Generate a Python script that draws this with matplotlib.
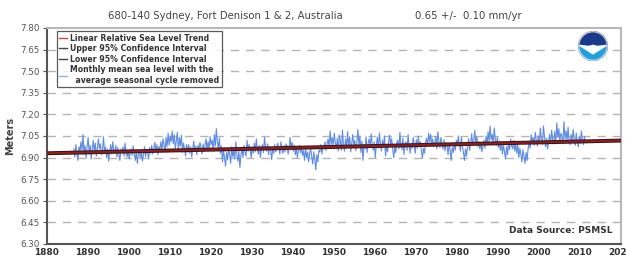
import matplotlib
matplotlib.use('Agg')
import matplotlib.pyplot as plt
from matplotlib.lines import Line2D
from matplotlib.patches import Circle, Wedge, Polygon
import numpy as np

# # Monthly mean sea level (seasonal cycle removed), mm
start_year = 1886.6
msl_mm = [
    6960, 6905, 6990, 6930,  6880, 6975, 6940, 7010,  6950, 7060, 6920, 6985,
    6900, 6970, 7040, 6935,  6985, 6890, 6955, 7020,  6940, 7000, 6910, 6965,
    7030, 6960, 6995, 6920,  6950, 7045, 6930, 6975,  6900, 6960, 6875, 6945,
    6990, 6925, 7010, 6950,  6930, 6985, 6905, 6970,  6920, 6880, 6960, 6935,
    6975, 6910, 7000, 6940,  6905, 6955, 6890, 6930,  6960, 6915, 6980, 6925,
    6880, 6940, 6860, 6920,  6950, 6895, 6935, 6875,  6920, 6975, 6905, 6950,
    6940, 6890, 6970, 6930,  6985, 6925, 6960, 7005,  6945, 6990, 6920, 6975,
    6960, 7010, 6950, 7030,  6990, 6940, 7040, 6975,  7070, 6985, 7050, 7010,
    7085, 6995, 7060, 6960,  7020, 7075, 6950, 7040,  6980, 7055, 6935, 7000,
    6960, 6910, 6990, 6940,  6990, 6930, 6975, 6905,  6960, 7015, 6940, 6980,
    6920, 6985, 6950, 7005,  6970, 6925, 6995, 6945,  6985, 7030, 6955, 7010,
    6960, 7045, 6990, 7020,  6945, 7060, 6980, 7100,  7010, 6960, 7035, 6930,
    6980, 6870, 6950, 6900,  6840, 6935, 6885, 6960,  6920, 6860, 6975, 6905,
    6950, 6890, 7010, 6925,  6875, 6945, 6830, 6920,  6965, 6900, 6985, 6935,
    6910, 7020, 6945, 6990,  6955, 6900, 6975, 6930,  7000, 6940, 7030, 6960,
    6925, 6985, 6900, 6960,  6990, 6935, 7040, 6970,  6945, 6995, 6920, 6975,
    6950, 6885, 6970, 6930,  6990, 6940, 6975, 7000,  6960, 6925, 7010, 6950,
    6930, 6985, 6940, 6995,  6980, 6925, 6965, 7040,  6955, 7005, 6945, 6985,
    6920, 6975, 6900, 6950,  6985, 6935, 6970, 6915,  6950, 6880, 6960, 6900,
    6940, 6870, 6930, 6960,  6905, 6855, 6940, 6890,  6815, 6920, 6870, 6950,
    6940, 6990, 6925, 6970,  6960, 7010, 6950, 6995,  7030, 6970, 7085, 6990,
    7040, 6980, 7070, 7005,  6960, 7035, 6945, 7055,  7010, 6950, 7090, 6985,
    6945, 7030, 6965, 7080,  6975, 7045, 6940, 6995,  7060, 6985, 7020, 6950,
    7005, 7095, 6990, 7050,  6935, 7015, 6880, 6990,  6960, 7045, 6935, 7000,
    7030, 6970, 7065, 6990,  6950, 7010, 6900, 6985,  7040, 6965, 7070, 7000,
    6945, 7020, 6980, 7050,  6910, 6985, 6940, 7010,  7055, 6990, 7030, 6960,
    6900, 6975, 6935, 7005,  7020, 6960, 7075, 6990,  6955, 7035, 6920, 6995,
    7010, 6950, 7060, 6985,  6930, 7000, 6965, 7040,  6990, 6930, 7025, 6965,
    7050, 6975, 7010, 6945,  6895, 6965, 6930, 7000,  7035, 6980, 7070, 7010,
    7060, 6995, 7030, 6975,  7000, 7045, 6960, 7080,  7015, 6970, 7040, 6990,
    6960, 7025, 6945, 7005,  6985, 6920, 6990, 6955,  6880, 6970, 6935, 7000,
    6950, 7020, 6985, 7050,  6990, 6945, 7040, 6975,  6935, 6880, 6960, 6910,
    6985, 7030, 6950, 7000,  7065, 6985, 7020, 7090,  6995, 7045, 6975, 7010,
    6960, 7000, 6940, 6985,  7020, 6965, 7050, 6990,  7080, 7010, 7120, 7025,
    7060, 6995, 7105, 7030,  6985, 7040, 6970, 7015,  6950, 7000, 6925, 6985,
    6940, 6890, 6975, 6920,  7005, 6955, 7030, 6980,  6960, 7020, 6945, 6995,
    6930, 6990, 6900, 6965,  6920, 6870, 6955, 6905,  6860, 6935, 6880, 6960,
    7010, 6965, 7060, 7000,  7040, 6985, 7075, 7020,  6980, 7050, 7000, 7105,
    7030, 6990, 7120, 7045,  6975, 7035, 6960, 7010,  7060, 7000, 7090, 7025,
    6995, 7080, 7015, 7140,  7040, 7100, 7010, 7070,  7050, 6995, 7150, 7030,
    7085, 7020, 7110, 7000,  6990, 7060, 7015, 7095,  7030, 6985, 7070, 7010,
    6975, 7050, 7000, 7085,  7020, 6990, 7045, 7010,
]

# # Linear trend and 95% band (m)
trend_years = [1880, 2020]
trend_level = [6.930, 7.018]
ci_halfwidth = [0.006, 0.006]

title_txt = '680-140 Sydney, Fort Denison 1 & 2, Australia'
rate_txt = '0.65 +/-  0.10 mm/yr'
yticks = [6.30, 6.45, 6.60, 6.75, 6.90, 7.05, 7.20, 7.35, 7.50, 7.65, 7.80]
xticks = list(range(1880, 2030, 10))

level = np.array(msl_mm) / 1000.0
t = start_year + np.arange(len(level)) / 4.0

fig = plt.figure(figsize=(6.26, 2.59), dpi=100)
ax = fig.add_axes([0.0746, 0.058, 0.9174, 0.834])

blue = '#5c8ce6'
ax.plot(t, level, color=blue, lw=0.8, zorder=3)

up = np.array(trend_level) + np.array(ci_halfwidth)
lo = np.array(trend_level) - np.array(ci_halfwidth)
ax.plot(trend_years, up, color='#2b1a1a', lw=1.6, zorder=4)
ax.plot(trend_years, lo, color='#2b1a1a', lw=1.6, zorder=4)
ax.plot(trend_years, trend_level, color='#a01818', lw=1.4, zorder=5)

ax.set_xlim(1880, 2020)
ax.set_ylim(6.30, 7.80)
ax.set_yticks(yticks)
ax.set_yticklabels(['%.2f' % v for v in yticks])
ax.set_xticks(xticks)
ax.tick_params(axis='x', labelsize=6.5, colors='#333333', length=0, pad=3)
ax.tick_params(axis='y', labelsize=6.3, colors='#555555', length=3, pad=2)
for lab in ax.get_xticklabels():
    lab.set_fontweight('bold')

for y in yticks[1:-1]:
    ax.axhline(y, color='#b4b4b4', lw=1.0, ls=(0, (6, 5)), zorder=1)

for s in ['top', 'right']:
    ax.spines[s].set_color('#b8b8b8')
    ax.spines[s].set_linewidth(1.5)
for s in ['left', 'bottom']:
    ax.spines[s].set_color('#555555')
    ax.spines[s].set_linewidth(1.5)

ax.set_ylabel('Meters', fontsize=7, color='#444444', fontweight='bold', labelpad=4)

fig.text(0.36, 0.937, title_txt, fontsize=7.3, color='#444444', ha='center', va='center')
fig.text(0.748, 0.937, rate_txt, fontsize=7.3, color='#444444', ha='center', va='center')

ax.text(0.985, 0.04, 'Data Source: PSMSL', transform=ax.transAxes, fontsize=6.5,
        color='#333333', ha='right', va='bottom', fontweight='bold')

handles = [
    Line2D([], [], color='#d04040', lw=1.0),
    Line2D([], [], color='#444444', lw=1.0),
    Line2D([], [], color='#444444', lw=1.0),
    Line2D([], [], color='#8fb0ee', lw=1.0),
]
labels = ['Linear Relative Sea Level Trend',
          'Upper 95% Confidence Interval',
          'Lower 95% Confidence Interval',
          'Monthly mean sea level with the\n  average seasonal cycle removed']
leg = ax.legend(handles, labels, loc='upper left', bbox_to_anchor=(0.018, 0.985),
                fontsize=5.6, frameon=True, fancybox=False, handlelength=1.0,
                handletextpad=0.4, borderpad=0.3, labelspacing=0.2,
                borderaxespad=0.0)
leg.get_frame().set_edgecolor('#333333')
leg.get_frame().set_linewidth(0.9)
for txt in leg.get_texts():
    txt.set_fontweight('bold')
    txt.set_color('#333333')

# # NOAA logo (simple sketch)
lax = fig.add_axes([593 / 626 - 0.025, 1 - 46 / 259 - 0.062, 0.05, 0.124])
lax.set_aspect('equal')
lax.set_xlim(-1.1, 1.1)
lax.set_ylim(-1.1, 1.1)
lax.axis('off')
lax.add_patch(Circle((0, 0), 1.0, color='#1a3a8a'))
lax.add_patch(Wedge((0, 0), 1.0, 180, 360, color='#20a0e0'))
lax.add_patch(Polygon([[-0.95, 0.05], [0, -0.55], [0.95, 0.05], [0.3, -0.05],
                       [0, 0.05], [-0.3, -0.05]], closed=True, color='white'))
lax.add_patch(Circle((0, 0), 1.0, fill=False, ec='#dddddd', lw=0.8))

fig.savefig('out.png', dpi=100)
